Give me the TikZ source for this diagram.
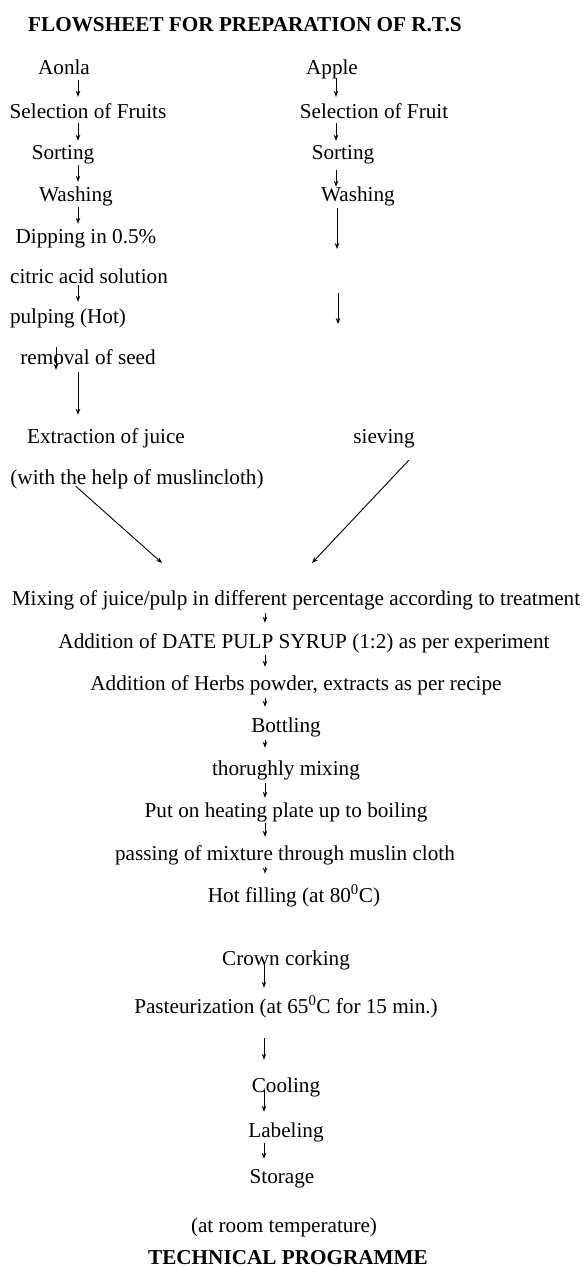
\documentclass[tikz,border=0pt]{standalone}
\usepackage{fontspec}
\setmainfont{Liberation Serif}
\usetikzlibrary{arrows.meta}
\begin{document}
\begin{tikzpicture}[x=1pt,y=-1pt, >={Stealth[length=6pt,width=4.5pt]},
  every node/.style={font=\fontsize{21.2}{25}\selectfont, inner sep=0pt, anchor=base, text height=13pt, text depth=4pt},
  flow/.style={->, line width=0.9pt, shorten <=2pt, shorten >=6pt}]
\useasboundingbox (0,0) rectangle (584,1267);
\coordinate (colL) at (78,0);
\coordinate (colS) at (56,0);
\coordinate (colR) at (336,0);
\coordinate (colM) at (265,0);
\coordinate (colN) at (264,0);
\coordinate (washEnd) at (337,249);
\coordinate (gapA) at (338,293);
\coordinate (gapB) at (338,324);
\coordinate (inL) at (162,563);
\coordinate (inR) at (312,563);
\node (title) at (28,31) [anchor=base west, font=\fontsize{21.2}{25}\selectfont\bfseries] {FLOWSHEET FOR PREPARATION OF R.T.S};
\node (aonla) at (64,74) {Aonla};
\node (selL) at (88,118) {Selection of Fruits};
\node (sortL) at (63,159) {Sorting};
\node (washL) at (76,201) {Washing};
\node (dip) at (86,243) {Dipping in 0.5\%};
\node (citric) at (89,283) {citric acid solution};
\node (pulp) at (68,323) {pulping (Hot)};
\node (seed) at (88,364) {removal of seed};
\node (extr) at (106,443) {Extraction of juice};
\node (extrb) at (137,484) {(with the help of muslincloth)};
\node (apple) at (332,74) {Apple};
\node (selR) at (374,118) {Selection of Fruit};
\node (sortR) at (343,159) {Sorting};
\node (washR) at (358,201) {Washing};
\node (sieve) at (384,443) {sieving};
\node (mix) at (296,605) {Mixing of juice/pulp in different percentage according to treatment};
\node (date) at (304,648) {Addition of DATE PULP SYRUP (1:2) as per experiment};
\node (herb) at (296,690) {Addition of Herbs powder, extracts as per recipe};
\node (bottle) at (286,732) {Bottling};
\node (thor) at (286,775) {thorughly mixing};
\node (heat) at (286,817) {Put on heating plate up to boiling};
\node (pass) at (285,860) {passing of mixture through muslin cloth};
\node (hot) at (294,902) {Hot filling (at 80\textsuperscript{0}C)};
\node (crown) at (286,965) {Crown corking};
\node (past) at (286,1013) {Pasteurization (at 65\textsuperscript{0}C for 15 min.)};
\node (cool) at (286,1092) {Cooling};
\node (labeling) at (286,1137) {Labeling};
\node (store) at (282,1183) {Storage};
\node (room) at (284,1232) {(at room temperature)};
\node (tech) at (288,1264) [font=\fontsize{21.2}{25}\selectfont\bfseries, text depth=0pt] {TECHNICAL PROGRAMME};
\draw[flow, shorten >=8pt] (aonla.south -| colL) -- (selL.north -| colL);
\draw[flow, shorten <=1pt, shorten >=5pt] (selL.south -| colL) -- (sortL.north -| colL);
\draw[flow] (sortL.south -| colL) -- (washL.north -| colL);
\draw[flow] (washL.south -| colL) -- (dip.north -| colL);
\draw[flow, shorten <=-2pt, shorten >=8pt] (citric.south -| colL) -- (pulp.north -| colL);
\draw[flow, shorten <=20pt, shorten >=-19pt] (pulp.south -| colS) -- (seed.north -| colS);
\draw[flow, shorten <=4pt, shorten >=15pt] (seed.south -| colL) -- (extr.north -| colL);
\draw[flow, shorten <=-3pt, shorten >=0pt] (extrb.south -| colL) -- (inL);
\draw[flow, shorten <=0pt, shorten >=8pt] (apple.south -| colR) -- (selR.north -| colR);
\draw[flow, shorten <=1pt, shorten >=5pt] (selR.south -| colR) -- (sortR.north -| colR);
\draw[flow, shorten <=7pt, shorten >=1pt] (sortR.south -| colR) -- (washR.north -| colR);
\draw[flow, shorten <=3pt, shorten >=0pt] (washR.south -| washEnd) -- (washEnd);
\draw[flow, shorten <=0pt, shorten >=0pt] (gapA) -- (gapB);
\draw[flow, shorten <=0pt, shorten >=0pt] ([xshift=-6pt,yshift=-13pt]sieve.south east) -- (inR);
\draw[flow, shorten <=4pt, shorten >=12pt] (mix.south -| colM) -- (date.north -| colM);
\draw[flow, shorten <=3pt, shorten >=10pt] (date.south -| colM) -- (herb.north -| colM);
\draw[flow, shorten <=4pt, shorten >=12pt] (herb.south -| colM) -- (bottle.north -| colM);
\draw[flow, shorten <=4pt, shorten >=14pt] (bottle.south -| colM) -- (thor.north -| colM);
\draw[flow, shorten <=4pt, shorten >=6pt] (thor.south -| colM) -- (heat.north -| colM);
\draw[flow, shorten <=2pt, shorten >=10pt] (heat.south -| colM) -- (pass.north -| colM);
\draw[flow, shorten <=3pt, shorten >=15pt] (pass.south -| colM) -- (hot.north -| colM);
\draw[flow, shorten <=-7pt, shorten >=12pt] (crown.south -| colN) -- (past.north -| colN);
\draw[flow, shorten <=21pt, shorten >=19pt] (past.south -| colN) -- (cool.north -| colN);
\draw[flow, shorten <=-6pt, shorten >=12pt] (cool.south -| colN) -- (labeling.north -| colN);
\draw[flow, shorten <=2pt, shorten >=11pt] (labeling.south -| colN) -- (store.north -| colN);
\end{tikzpicture}
\end{document}
